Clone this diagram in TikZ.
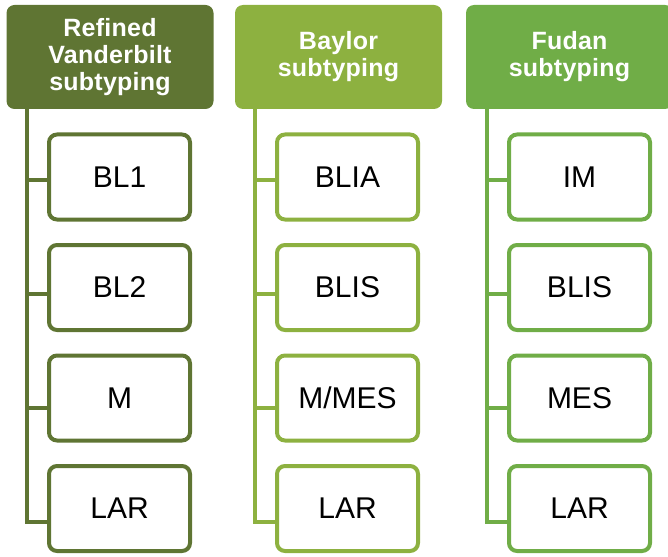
\documentclass[tikz,border=0pt]{standalone}
\usepackage{fontspec}
\setmainfont{Liberation Sans}
\newfontfamily\hdrfont{Liberation Sans}[LetterSpace=1]
\definecolor{vandgreen}{RGB}{95,117,51}
\definecolor{baylgreen}{RGB}{141,177,64}
\definecolor{fudagreen}{RGB}{112,173,71}

\begin{document}
\begin{tikzpicture}[x=1pt,y=-1pt,
    header/.style={rounded corners=8pt,fill=#1,text=white,inner sep=0pt,
        minimum width=207pt,minimum height=104pt,align=center,
        font=\hdrfont\fontsize{25}{27}\selectfont\bfseries},
    subbox/.style={draw=#1,line width=4pt,rounded corners=8pt,fill=white,
        minimum width=141pt,minimum height=85pt,
        font=\fontsize{30}{36}\selectfont},
    spine/.style={draw=#1,line width=4pt}]
    \useasboundingbox (0,0) rectangle (668,556);
    \clip (0,0) rectangle (668,556);
    % the three subtyping headers
    \node[header=vandgreen] (h1) at (110,57) {Refined\\Vanderbilt\\subtyping};
    \node[header=baylgreen] (h2) at (338.5,57) {Baylor\\subtyping};
    \node[header=fudagreen] (h3) at (569.5,57) {Fudan\\subtyping};
    % where the spines leave the headers
    \coordinate (s1) at ([xshift=21pt]h1.south west);
    \coordinate (s2) at ([xshift=20pt]h2.south west);
    \coordinate (s3) at ([xshift=21pt]h3.south west);
    % the subtypes
    \foreach \lbl [count=\i] in {BL1,BL2,M,LAR}
        \node[subbox=vandgreen] (a\i) at (119.5,{66.5+110.5*\i}) {\lbl};
    \foreach \lbl [count=\i] in {BLIA,BLIS,M/MES,LAR}
        \node[subbox=baylgreen] (b\i) at (347.5,{66.5+110.5*\i}) {\lbl};
    \foreach \lbl [count=\i] in {IM,BLIS,MES,LAR}
        \node[subbox=fudagreen] (c\i) at (579.5,{66.5+110.5*\i}) {\lbl};
    % spines and stubs
    \foreach \i in {1,...,4} {
        \draw[spine=vandgreen] (s1) |- ([yshift={-(3.5*\i-1)*1pt}]a\i.west);
        \draw[spine=baylgreen] (s2) |- ([yshift={-(3.5*\i-1)*1pt}]b\i.west);
        \draw[spine=fudagreen] (s3) |- ([yshift={-(3.5*\i-1)*1pt}]c\i.west);
    }
\end{tikzpicture}
\end{document}
